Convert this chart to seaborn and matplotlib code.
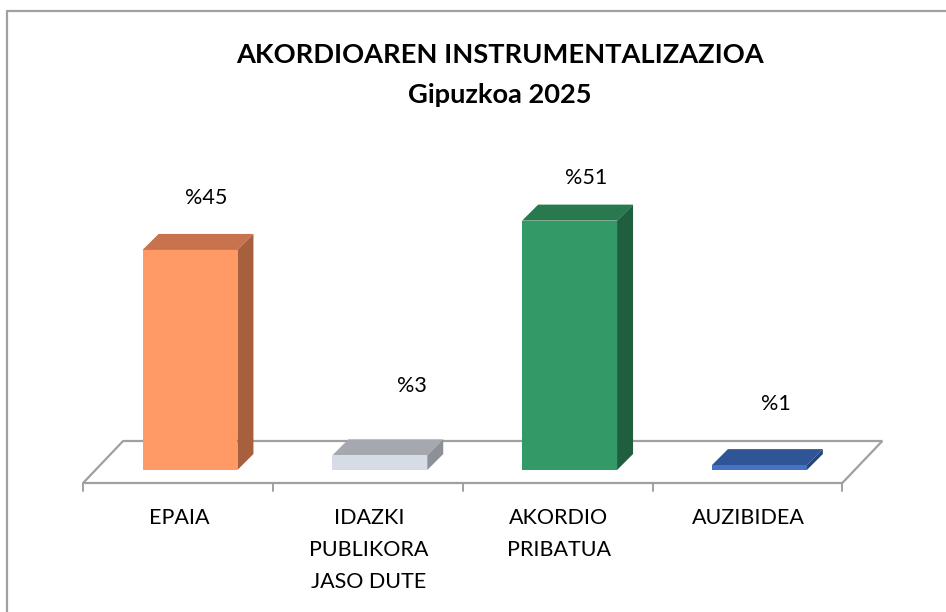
import matplotlib
matplotlib.use("Agg")
import matplotlib.pyplot as plt
import seaborn as sns
from matplotlib.patches import Polygon
from matplotlib.lines import Line2D

# ---- data ----
categories = ["EPAIA", "IDAZKI\nPUBLIKORA\nJASO DUTE", "AKORDIO\nPRIBATUA", "AUZIBIDEA"]
values = [45, 3, 51, 1]
value_labels = ["%45", "%3", "%51", "%1"]
title_line1 = "AKORDIOAREN INSTRUMENTALIZAZIOA"
title_line2 = "Gipuzkoa 2025"

# ---- styling ----
front_colors = ["#FF9966", "#D6DCE5", "#339966", "#4472C4"]
top_colors = ["#C8734E", "#A5A8AE", "#29794F", "#2F5597"]
side_colors = ["#A6603E", "#8D9095", "#1F5E3E", "#24447A"]
label_offsets_px = [(16, 52), (32, 69), (17, 43), (16, 61)]  # (dx, dy) of value labels

sns.set_theme(style="white")
plt.rcParams["font.family"] = ["Lato", "DejaVu Sans"]

W, H = 946, 612
fig = plt.figure(figsize=(W / 100, H / 100), dpi=100)
ax = fig.add_axes([0, 0, 1, 1])

# pixel geometry of the plot area
x_origin, sx = 190.0, 189.8     # centre of first bar, px per category
y_origin, sy = 470.0, 4.89      # baseline (px from top), px per percent

sns.barplot(x=categories, y=values, hue=categories, palette=front_colors,
            width=0.5, saturation=1, legend=False, ax=ax, zorder=4,
            linewidth=0)
bars = [p for p in ax.patches if hasattr(p, "get_width")]

ax.set_xlim(-x_origin / sx, (W - x_origin) / sx)
ax.set_ylim((y_origin - H) / sy, y_origin / sy)
ax.axis("off")


def px(dx, dy):
    """Pixel offset (right, up) converted to data units."""
    return dx / sx, dy / sy


# floor plate
fdx, fdy = px(-12, -13)
bdx, bdy = px(28, 29)
left, right = -0.5, len(categories) - 0.5
floor = Polygon([(left + fdx, fdy), (right + fdx, fdy),
                 (right + bdx, bdy), (left + bdx, bdy)],
                closed=True, facecolor="white", edgecolor="#A0A0A0",
                linewidth=1.6, zorder=1)
ax.add_patch(floor)
tdx, tdy = px(0, 8)
for i in range(len(categories) + 1):
    xb = i - 0.5 + fdx
    ax.plot([xb, xb], [fdy, fdy - tdy], color="#A0A0A0", lw=1.4, zorder=1)

# 3-D faces of each bar
ddx, ddy = px(16, 16)
for bar, tc, sc in zip(bars, top_colors, side_colors):
    x0 = bar.get_x()
    x1 = x0 + bar.get_width()
    h = bar.get_height()
    top = Polygon([(x0, h), (x1, h), (x1 + ddx, h + ddy), (x0 + ddx, h + ddy)],
                  closed=True, facecolor=tc, edgecolor="none", zorder=3)
    side = Polygon([(x1, 0), (x1, h), (x1 + ddx, h + ddy), (x1 + ddx, ddy)],
                   closed=True, facecolor=sc, edgecolor="none", zorder=3)
    ax.add_patch(top)
    ax.add_patch(side)

# value labels
for i, (v, lab, (ox, oy)) in enumerate(zip(values, value_labels, label_offsets_px)):
    lx, ly = px(ox, oy)
    ax.text(i + lx, v + ly, lab, ha="center", va="center",
            fontsize=15.5, color="#000000", zorder=6)

# category labels under the floor
cdx, _ = px(-11, 0)
ytop = (y_origin - 508) / sy
for i, cat in enumerate(categories):
    ax.text(i + cdx, ytop, cat, ha="center", va="top", fontsize=15.5,
            color="#000000", linespacing=1.76, zorder=6)

# titles
fig.text(500 / W, 1 - 55 / H, title_line1, ha="center", va="center",
         fontsize=19.6, fontweight="bold", color="#000000")
fig.text(500 / W, 1 - 95 / H, title_line2, ha="center", va="center",
         fontsize=19.6, fontweight="bold", color="#000000")

# chart frame
fig.add_artist(Line2D([7 / W, 7 / W, 1.0], [0.0, 1 - 11 / H, 1 - 11 / H],
                      transform=fig.transFigure, color="#A0A0A0", lw=1.6))

fig.savefig("out.png", dpi=100, facecolor="white")
